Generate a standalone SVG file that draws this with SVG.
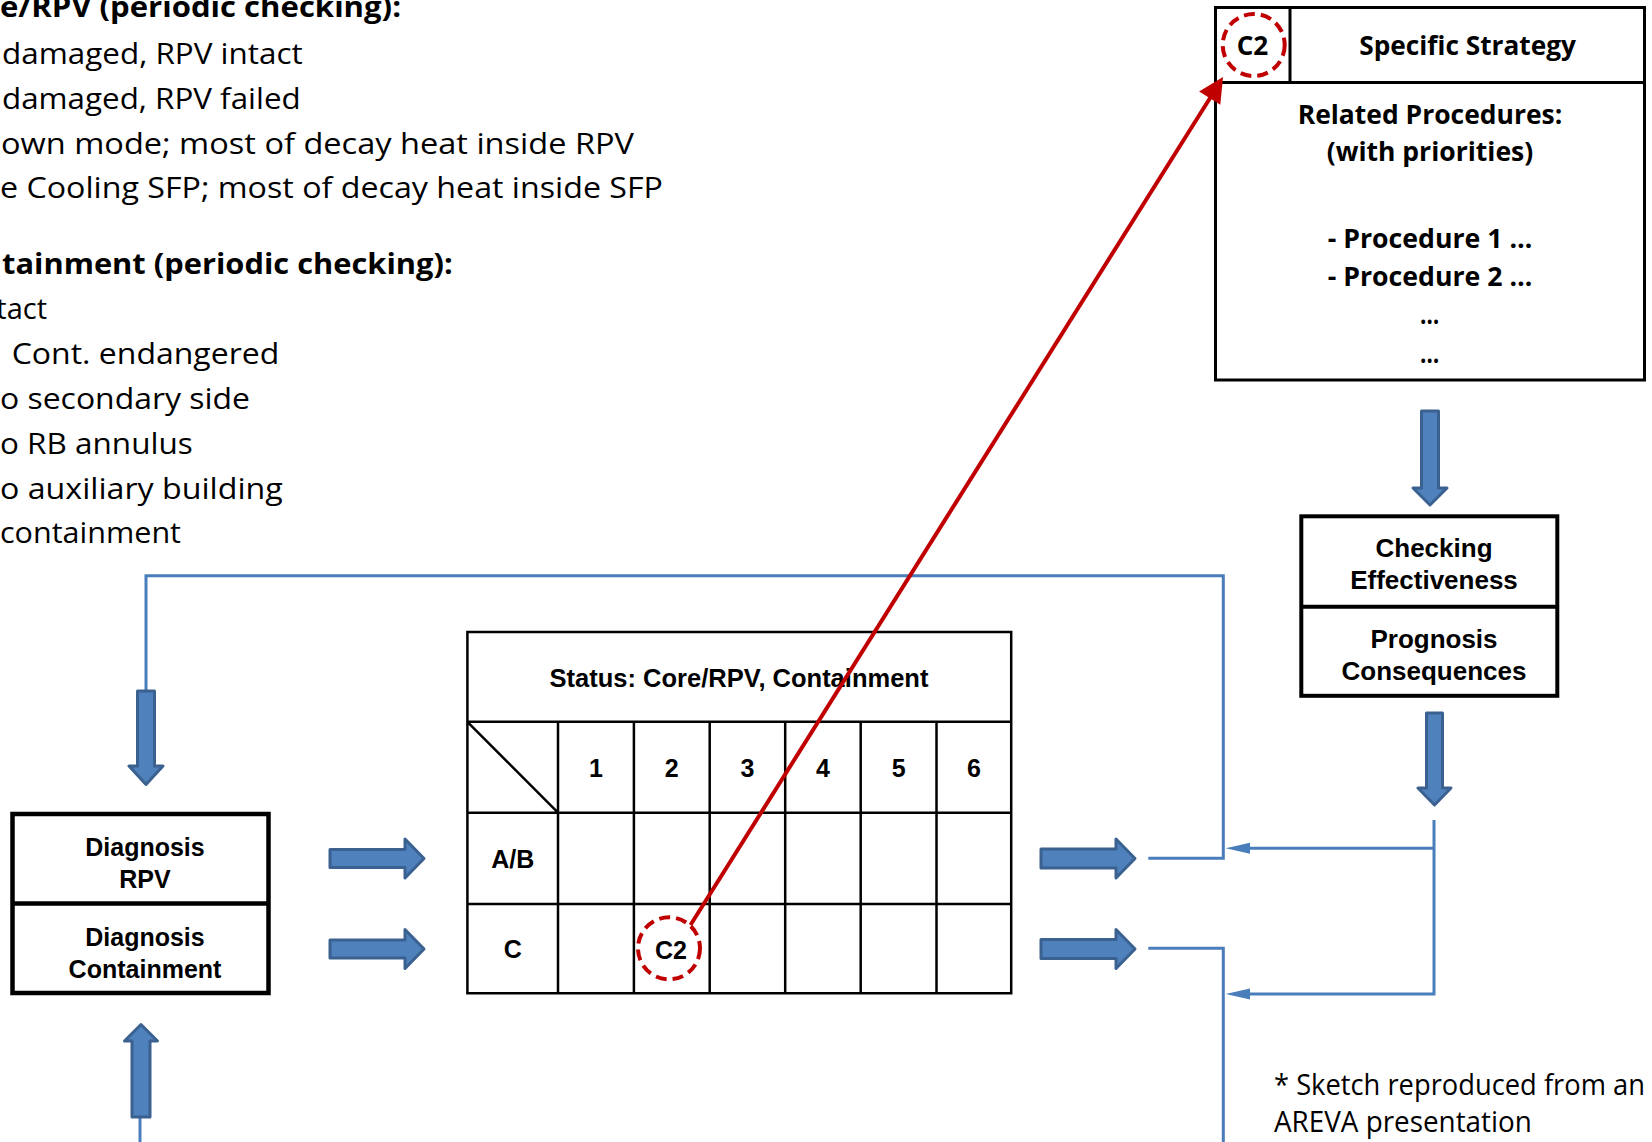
<svg xmlns="http://www.w3.org/2000/svg" width="1652" height="1142" viewBox="0 0 1652 1142">
<style>
.note{font-family:"Open Sans","Liberation Sans",sans-serif;font-size:29px;fill:#000}
.noteb{font-family:"Open Sans","Liberation Sans",sans-serif;font-size:29px;font-weight:700;fill:#000}
.cb{font-family:"Open Sans","Liberation Sans",sans-serif;font-size:27px;font-weight:700;fill:#000}
.ab{font-family:"Liberation Sans",Arial,sans-serif;font-weight:700;fill:#000;text-anchor:middle}
.box{fill:#fff;stroke:#000}
.grid{fill:none;stroke:#000;stroke-width:2.5}
.blk{fill:#4f81bd;stroke:#3a6190;stroke-width:3;stroke-linejoin:round}
.wire{fill:none;stroke:#4a7ebb;stroke-width:3}
.tip{fill:#4a7ebb}
.dash{fill:none;stroke:#c00000;stroke-width:4;stroke-dasharray:11 6}
</style>

<g id="legend-text">
<text class="noteb" x="0" y="17" textLength="401" lengthAdjust="spacingAndGlyphs">e/RPV (periodic checking):</text>
<text class="note" x="2" y="64" textLength="300.7" lengthAdjust="spacingAndGlyphs">damaged, RPV intact</text>
<text class="note" x="2" y="108.5" textLength="298.7" lengthAdjust="spacingAndGlyphs">damaged, RPV failed</text>
<text class="note" x="1" y="154" textLength="633" lengthAdjust="spacingAndGlyphs">own mode; most of decay heat inside RPV</text>
<text class="note" x="0" y="197.5" textLength="663" lengthAdjust="spacingAndGlyphs">e Cooling SFP; most of decay heat inside SFP</text>
<text class="noteb" x="2" y="274" textLength="450.7" lengthAdjust="spacingAndGlyphs">tainment (periodic checking):</text>
<text class="note" x="47" y="319" text-anchor="end">tact</text>
<text class="note" x="11.7" y="363.5" textLength="267.6" lengthAdjust="spacingAndGlyphs">Cont. endangered</text>
<text class="note" x="0" y="409" textLength="250" lengthAdjust="spacingAndGlyphs">o secondary side</text>
<text class="note" x="0" y="453.5" textLength="192.7" lengthAdjust="spacingAndGlyphs">o RB annulus</text>
<text class="note" x="0" y="498.5" textLength="282.7" lengthAdjust="spacingAndGlyphs">o auxiliary building</text>
<text class="note" x="0" y="543" textLength="181" lengthAdjust="spacingAndGlyphs">containment</text>
</g>

<g id="footnote">
<text class="note" x="1274" y="1095" textLength="371" lengthAdjust="spacingAndGlyphs">* Sketch reproduced from an</text>
<text class="note" x="1274" y="1131.7" textLength="257.8" lengthAdjust="spacingAndGlyphs">AREVA presentation</text>
</g>

<g id="connectors">
<path class="wire" d="M146,690 V575.7 H1223.3 V858.3 H1148.3"/>
<path class="wire" d="M1148.3,948.3 H1223.3 V1142"/>
<path class="wire" d="M140,1116 V1142"/>
<path class="wire" d="M1434,820 V994 H1245"/>
<path class="wire" d="M1434,848.3 H1245"/>
<polygon class="tip" points="1225.7,848.3 1250,842.8 1250,853.8"/>
<polygon class="tip" points="1225.7,994 1250,988.5 1250,999.5"/>
<path class="blk" d="M137.5,691 H154.5 V766 H163 L146,784.5 L129,766 H137.5 Z"/>
<path class="blk" d="M132,1117 V1041 H124.5 L141,1024.5 L157.5,1041 H150 V1117 Z"/>
<path class="blk" d="M330,849.5 H405 V839 L424,858.5 L405,878 V867.5 H330 Z"/>
<path class="blk" d="M330,940 H405 V929.5 L424,949 L405,968.5 V958 H330 Z"/>
<path class="blk" d="M1041,849 H1116 V839 L1135,858.5 L1116,878 V868 H1041 Z"/>
<path class="blk" d="M1041,939.5 H1116 V929.5 L1135,949 L1116,968.5 V958.5 H1041 Z"/>
<path class="blk" d="M1421.5,411 H1438.5 V488 H1447 L1430,505 L1413,488 H1421.5 Z"/>
<path class="blk" d="M1426.5,713 H1442.5 V788 H1451 L1434.5,805 L1418,788 H1426.5 Z"/>
</g>

<g id="diagnosis">
<rect class="box" x="12.5" y="814" width="256" height="179" stroke-width="4.5"/>
<line x1="12.5" y1="903.5" x2="268.5" y2="903.5" stroke="#000" stroke-width="4.5"/>
<text class="ab" x="145" y="856" font-size="25">Diagnosis</text>
<text class="ab" x="145" y="887.5" font-size="25">RPV</text>
<text class="ab" x="145" y="946" font-size="25">Diagnosis</text>
<text class="ab" x="145" y="977.5" font-size="25">Containment</text>
</g>

<g id="status-table">
<rect x="467.4" y="632" width="543.8" height="361.5" fill="#fff" stroke="none"/>
<path class="grid" d="M467.4,632 H1011.2 V993.3 H467.4 Z M467.4,721.8 H1011.2 M467.4,812.7 H1011.2 M467.4,904 H1011.2 M558,721.8 V993.3 M633.9,721.8 V993.3 M709.7,721.8 V993.3 M785.2,721.8 V993.3 M860.7,721.8 V993.3 M936.5,721.8 V993.3 M467.4,721.8 L558,812.7"/>
<text class="ab" x="739" y="686.7" font-size="25.5">Status: Core/RPV, Containment</text>
<text class="ab" x="596" y="777.3" font-size="25">1</text>
<text class="ab" x="671.8" y="777.3" font-size="25">2</text>
<text class="ab" x="747.5" y="777.3" font-size="25">3</text>
<text class="ab" x="823" y="777.3" font-size="25">4</text>
<text class="ab" x="898.6" y="777.3" font-size="25">5</text>
<text class="ab" x="973.9" y="777.3" font-size="25">6</text>
<text class="ab" x="512.7" y="868.3" font-size="25">A/B</text>
<text class="ab" x="512.7" y="958.3" font-size="25">C</text>
<circle class="dash" cx="669" cy="948.3" r="31"/>
<text class="ab" x="671" y="959" font-size="25">C2</text>
</g>

<g id="strategy">
<rect class="box" x="1215.5" y="7.5" width="429" height="372.5" stroke-width="3"/>
<line x1="1215.5" y1="82.5" x2="1644.5" y2="82.5" stroke="#000" stroke-width="3"/>
<line x1="1290" y1="7.5" x2="1290" y2="82.5" stroke="#000" stroke-width="3"/>
<circle class="dash" cx="1253.7" cy="45" r="31"/>
<text class="cb" x="1236.7" y="55" textLength="31.6" lengthAdjust="spacingAndGlyphs">C2</text>
<text class="cb" x="1359.3" y="55" textLength="216.7" lengthAdjust="spacingAndGlyphs">Specific Strategy</text>
<text class="cb" x="1297.7" y="124" textLength="264.6" lengthAdjust="spacingAndGlyphs">Related Procedures:</text>
<text class="cb" x="1326.7" y="161" textLength="206.6" lengthAdjust="spacingAndGlyphs">(with priorities)</text>
<text class="cb" x="1327.7" y="248" textLength="204.6" lengthAdjust="spacingAndGlyphs">- Procedure 1 …</text>
<text class="cb" x="1327.7" y="286" textLength="204.6" lengthAdjust="spacingAndGlyphs">- Procedure 2 …</text>
<text class="cb" x="1420" y="324" textLength="19.3" lengthAdjust="spacingAndGlyphs">…</text>
<text class="cb" x="1420" y="363" textLength="19.3" lengthAdjust="spacingAndGlyphs">…</text>
</g>

<g id="checking">
<rect class="box" x="1301.3" y="516.3" width="256" height="179.5" stroke-width="4"/>
<line x1="1301.3" y1="606.7" x2="1557.3" y2="606.7" stroke="#000" stroke-width="4"/>
<text class="ab" x="1434" y="557.3" font-size="26">Checking</text>
<text class="ab" x="1434" y="589.3" font-size="26">Effectiveness</text>
<text class="ab" x="1434" y="648.3" font-size="26">Prognosis</text>
<text class="ab" x="1434" y="680" font-size="26">Consequences</text>
</g>

<g id="red-link">
<line x1="690.5" y1="925" x2="1211" y2="96.5" stroke="#c00000" stroke-width="4"/>
<polygon points="1223,77 1199.1,91.6 1220.3,104.8" fill="#c00000"/>
</g>
</svg>
